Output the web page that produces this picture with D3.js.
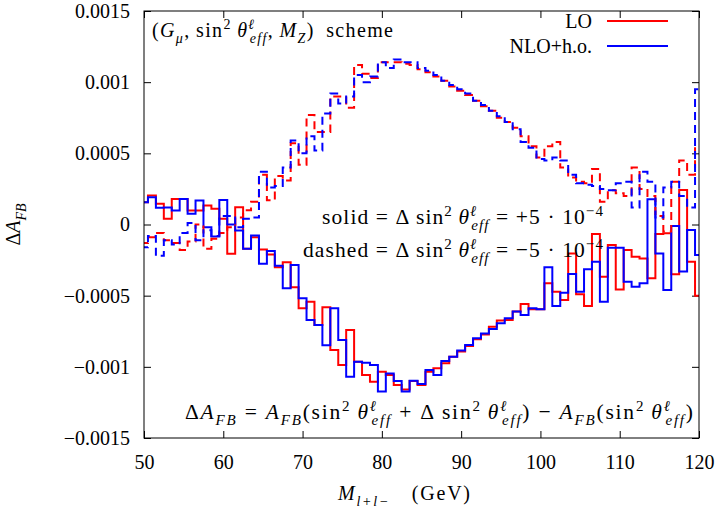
<!DOCTYPE html>
<html>
<head>
<meta charset="utf-8">
<script src="https://cdn.jsdelivr.net/npm/d3@7"></script>
<style>
  body { margin: 0; background: #fff; }
  text { font-family: "Liberation Serif", "DejaVu Serif", serif; fill: #000; }
</style>
</head>
<body>
<div id="chart"></div>
<script>
// bin centres (GeV)
const massBins = [50,51,52,53,54,55,56,57,58,59,60,61,62,63,64,65,66,67,68,69,
  70,71,72,73,74,75,76,77,78,79,80,81,82,83,84,85,86,87,88,89,
  90,91,92,93,94,95,96,97,98,99,100,101,102,103,104,105,106,107,108,109,
  110,111,112,113,114,115,116,117,118,119,120];

// solid: delta sin2 = +5e-4
const loSolid = [1.57e-4,2.04e-4,1.45e-4,0.40e-4,1.80e-4,1.80e-4,0.98e-4,0.98e-4,1.33e-4,1.10e-4,
  0.40e-4,-2.06e-4,1.22e-4,-1.71e-4,-0.89e-4,-1.75e-4,-2.10e-4,-3.00e-4,-2.66e-4,-4.41e-4,
  -5.89e-4,-5.42e-4,-7.06e-4,-5.82e-4,-8.82e-4,-9.87e-4,-7.41e-4,-9.64e-4,-10.57e-4,-11.04e-4,
  -10.34e-4,-10.57e-4,-11.28e-4,-11.60e-4,-11.00e-4,-11.28e-4,-10.34e-4,-10.10e-4,-9.75e-4,-9.29e-4,
  -8.93e-4,-8.54e-4,-8.07e-4,-7.72e-4,-7.18e-4,-6.75e-4,-6.71e-4,-6.12e-4,-5.58e-4,-5.96e-4,
  -5.96e-4,-4.13e-4,-4.72e-4,-5.30e-4,-2.03e-4,-4.90e-4,-5.73e-4,-0.67e-4,-3.67e-4,-1.44e-4,
  -4.56e-4,-1.79e-4,-2.26e-4,-2.38e-4,-3.78e-4,-0.67e-4,-0.62e-4,-3.50e-4,2.42e-4,-2.61e-4,-5.00e-4];

const nloSolid = [1.57e-4,1.92e-4,1.17e-4,1.20e-4,0.98e-4,1.80e-4,0.75e-4,1.69e-4,-0.19e-4,-0.84e-4,
  1.73e-4,0.00,-0.42e-4,-1.71e-4,-0.77e-4,-2.76e-4,-1.87e-4,-2.90e-4,-4.48e-4,-2.85e-4,
  -5.19e-4,-6.71e-4,-7.06e-4,-8.49e-4,-5.89e-4,-8.11e-4,-10.69e-4,-9.64e-4,-9.71e-4,-9.87e-4,
  -11.74e-4,-10.46e-4,-11.00e-4,-11.74e-4,-10.97e-4,-11.20e-4,-10.22e-4,-10.57e-4,-9.59e-4,-9.29e-4,
  -8.86e-4,-8.47e-4,-8.00e-4,-7.65e-4,-7.34e-4,-6.94e-4,-6.59e-4,-6.12e-4,-6.36e-4,-5.89e-4,
  -5.96e-4,-3.01e-4,-5.73e-4,-4.79e-4,-3.48e-4,-4.72e-4,-3.15e-4,-2.61e-4,-5.42e-4,-1.63e-4,
  -1.63e-4,-4.02e-4,-4.37e-4,-4.13e-4,1.77e-4,-2.03e-4,-4.60e-4,-0.10e-4,-3.31e-4,-0.39e-4,-2.14e-4];

// dashed: delta sin2 = -5e-4
const loDashed = [-1.3e-4,-0.9e-4,-0.6e-4,-1.1e-4,-1.3e-4,-1.8e-4,-1.2e-4,0.0,-1.7e-4,-1.0e-4,
  -0.6e-4,-0.2e-4,0.5e-4,1.0e-4,1.6e-4,3.5e-4,1.7e-4,3.4e-4,3.1e-4,5.7e-4,
  4.2e-4,7.7e-4,6.5e-4,6.5e-4,9.0e-4,9.0e-4,8.2e-4,11.2e-4,10.6e-4,10.3e-4,
  11.4e-4,11.4e-4,11.4e-4,11.3e-4,11.2e-4,10.9e-4,10.7e-4,10.4e-4,10.1e-4,9.7e-4,
  9.4e-4,9.1e-4,8.7e-4,8.3e-4,8.0e-4,7.5e-4,7.2e-4,6.8e-4,6.2e-4,5.5e-4,
  4.7e-4,5.5e-4,5.8e-4,4.0e-4,3.3e-4,3.0e-4,2.9e-4,3.9e-4,1.6e-4,2.4e-4,
  2.2e-4,2.0e-4,4.0e-4,2.5e-4,2.0e-4,0.6e-4,-0.5e-4,3.0e-4,4.5e-4,3.5e-4,5.5e-4];

const nloDashed = [-1.6e-4,-0.8e-4,-2.2e-4,-1.1e-4,-1.4e-4,-0.6e-4,0.1e-4,-1.1e-4,-0.4e-4,-0.8e-4,
  0.6e-4,0.6e-4,-0.2e-4,0.4e-4,0.5e-4,3.7e-4,2.6e-4,2.7e-4,4.0e-4,5.9e-4,
  5.0e-4,6.2e-4,5.2e-4,7.8e-4,9.2e-4,8.5e-4,9.0e-4,10.5e-4,10.0e-4,10.4e-4,
  11.4e-4,11.0e-4,11.6e-4,11.4e-4,11.4e-4,11.0e-4,10.8e-4,10.5e-4,10.1e-4,9.8e-4,
  9.5e-4,9.2e-4,8.7e-4,8.4e-4,8.0e-4,7.6e-4,7.2e-4,6.7e-4,5.8e-4,5.4e-4,
  4.6e-4,4.5e-4,4.7e-4,4.5e-4,3.5e-4,2.9e-4,2.8e-4,2.7e-4,2.5e-4,2.4e-4,
  2.9e-4,3.0e-4,1.2e-4,3.7e-4,3.0e-4,0.5e-4,2.6e-4,3.0e-4,2.0e-4,1.2e-4,9.5e-4];

const xTicks = [50, 60, 70, 80, 90, 100, 110, 120];
const yTicks = [-0.0015, -0.001, -0.0005, 0, 0.0005, 0.001, 0.0015];
const yTickLabels = ["\u22120.0015", "\u22120.001", "\u22120.0005", "0", "0.0005", "0.001", "0.0015"];

const W = 717, H = 509;
const margin = {top: 11, right: 18, bottom: 71, left: 144};
const width = W - margin.left - margin.right;
const height = H - margin.top - margin.bottom;
const fs = 20;
const mathFs = 21.5;

const svg = d3.select("#chart").append("svg")
    .attr("width", W)
    .attr("height", H);

const g = svg.append("g")
    .attr("transform", "translate(" + margin.left + "," + margin.top + ")");

const xScale = d3.scaleLinear().domain([50, 120]).range([0, width]);
const yScale = d3.scaleLinear().domain([-0.0015, 0.0015]).range([height, 0]);

// axes, ticks drawn inward and mirrored
const tickLen = 7;
g.append("g")
    .attr("transform", "translate(0," + height + ")")
    .call(d3.axisBottom(xScale).tickValues(xTicks).tickSize(-tickLen).tickPadding(17).tickFormat(d3.format("d")))
    .call(a => a.select(".domain").remove())
    .call(a => a.selectAll("text").attr("font-size", fs).attr("font-family", null));
g.append("g")
    .call(d3.axisTop(xScale).tickValues(xTicks).tickSize(-tickLen).tickFormat(""))
    .call(a => a.select(".domain").remove());
g.append("g")
    .call(d3.axisLeft(yScale).tickValues(yTicks).tickSize(-tickLen).tickPadding(14)
        .tickFormat((d, i) => yTickLabels[i]))
    .call(a => a.select(".domain").remove())
    .call(a => a.selectAll("text").attr("font-size", fs).attr("font-family", null));
g.append("g")
    .attr("transform", "translate(" + width + ",0)")
    .call(d3.axisRight(yScale).tickValues(yTicks).tickSize(-tickLen).tickFormat(""))
    .call(a => a.select(".domain").remove());

// histogram steps (centred on each bin)
svg.append("defs").append("clipPath").attr("id", "plotClip")
    .append("rect").attr("width", width).attr("height", height);

const stepLine = d3.line()
    .x(d => xScale(d[0]))
    .y(d => yScale(d[1]));

function stepPoints(values) {
    const pts = [];
    massBins.forEach((m, i) => {
        pts.push([m - 0.5, values[i]]);
        pts.push([m + 0.5, values[i]]);
    });
    return pts;
}

const series = [
    {values: loSolid, color: "#ff0000", dash: null},
    {values: nloSolid, color: "#0000ff", dash: null},
    {values: loDashed, color: "#ff0000", dash: "8,5"},
    {values: nloDashed, color: "#0000ff", dash: "8,5"}
];

const plot = g.append("g").attr("clip-path", "url(#plotClip)");
plot.selectAll(".step")
    .data(series)
    .join("path")
    .attr("class", "step")
    .attr("d", s => stepLine(stepPoints(s.values)))
    .attr("fill", "none")
    .attr("stroke", s => s.color)
    .attr("stroke-width", 2)
    .attr("stroke-dasharray", s => s.dash);

// frame
g.append("rect")
    .attr("width", width).attr("height", height)
    .attr("fill", "none").attr("stroke", "#000").attr("stroke-width", 1);

// rich text with sub/superscripts, optionally stretched to a given width
function richText(parent, x, y, parts, size, anchor, fitWidth) {
    const t = parent.append("text")
        .attr("x", x).attr("y", y)
        .attr("font-size", size)
        .attr("text-anchor", anchor || "start");
    let level = 0, prev = null;
    parts.forEach(p => {
        const lv = p.sub ? 0.28 : p.sup ? -0.38 : 0;
        const s = t.append("tspan").text(p.t);
        if (p.i) s.attr("font-style", "italic");
        if (p.sub || p.sup) s.attr("font-size", size * 0.7);
        const dy = (lv - level) * size;
        if (dy) s.attr("dy", dy);
        let dx = p.dx || 0;
        if (p.under && prev) dx -= prev.node().getComputedTextLength();
        if (dx) s.attr("dx", dx);
        level = lv;
        prev = s;
    });
    if (fitWidth) t.attr("textLength", fitWidth).attr("lengthAdjust", "spacing");
    return t;
}

const sinTheta = [
    {t: "sin"}, {t: "2", sup: true}, {t: "\u2009\u03b8", i: true},
    {t: "\u2113", sup: true, i: true}, {t: "eff", sub: true, i: true, under: true}
];
const deltaSin = [{t: "\u0394\u2009"}].concat(sinTheta);

richText(svg, 152, 37, [
    {t: "("}, {t: "G", i: true}, {t: "\u03bc", sub: true, i: true}, {t: ",\u2009"}
].concat(sinTheta, [{t: ",\u2009"}, {t: "M", i: true}, {t: "Z", sub: true, i: true}, {t: ")\u2002scheme"}]), fs, "start", 241);

// legend
richText(svg, 592, 28, [{t: "LO"}], fs, "end");
richText(svg, 592, 53, [{t: "NLO+h.o."}], fs, "end");
svg.append("line").attr("x1", 607).attr("x2", 668).attr("y1", 21).attr("y2", 21)
    .attr("stroke", "#ff0000").attr("stroke-width", 2);
svg.append("line").attr("x1", 607).attr("x2", 668).attr("y1", 46).attr("y2", 46)
    .attr("stroke", "#0000ff").attr("stroke-width", 2);

// annotation
richText(svg, 603, 224, [{t: "solid = "}].concat(deltaSin, [{t: " = +5 \u00b7 10"}, {t: "\u22124", sup: true}]), mathFs, "end", 281);
richText(svg, 603, 257, [{t: "dashed = "}].concat(deltaSin, [{t: " = \u22125 \u00b7 10"}, {t: "\u22124", sup: true}]), mathFs, "end", 300);

richText(svg, 693, 419, [
    {t: "\u0394"}, {t: "A", i: true}, {t: "FB", sub: true, i: true}, {t: " = "},
    {t: "A", i: true}, {t: "FB", sub: true, i: true}, {t: "("}
].concat(sinTheta, [{t: " + "}], deltaSin, [{t: ") \u2212 "},
    {t: "A", i: true}, {t: "FB", sub: true, i: true}, {t: "("}], sinTheta, [{t: ")"}]), mathFs, "end", 508);

// axis titles
richText(svg, 0, 0, [{t: "\u0394"}, {t: "A", i: true}, {t: "FB", sub: true, i: true}], fs, "middle")
    .attr("transform", "translate(20," + (margin.top + height / 2) + ") rotate(-90)");
richText(svg, 338, 500, [
    {t: "M", i: true}, {t: "l+l\u2212", sub: true, i: true}, {t: "\u2003(GeV)"}
], fs, "start", 132);
</script>
</body>
</html>
